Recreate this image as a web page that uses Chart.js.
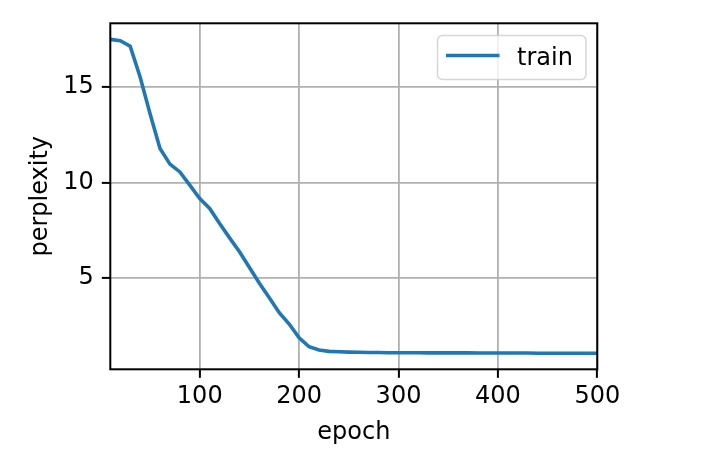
<!DOCTYPE html>
<html>
<head>
<meta charset="utf-8">
<script src="https://cdn.jsdelivr.net/npm/chart.js@4.4.1/dist/chart.umd.min.js"></script>
<style>
  html, body { margin: 0; padding: 0; background: #ffffff; }
  #wrap { width: 703px; height: 474px; }
</style>
</head>
<body>
<div id="wrap"><canvas id="c" width="703" height="474"></canvas></div>
<script>
const epochs = [10,20,30,40,50,60,70,80,90,100,110,120,130,140,150,160,170,180,190,200,
  210,220,230,240,250,260,270,280,290,300,310,320,330,340,350,360,370,380,390,400,
  410,420,430,440,450,460,470,480,490,500];
const trainPerplexity = [17.49,17.42,17.13,15.52,13.60,11.78,10.96,10.55,9.86,9.16,
  8.64,7.85,7.10,6.37,5.55,4.72,3.97,3.18,2.59,1.87,
  1.40,1.23,1.16,1.14,1.12,1.11,1.10,1.10,1.09,1.09,
  1.09,1.09,1.08,1.08,1.08,1.08,1.08,1.07,1.07,1.07,
  1.07,1.07,1.07,1.06,1.06,1.06,1.06,1.06,1.06,1.06];
const xTicks = [100,200,300,400,500];
const yTicks = [5,10,15];
const seriesLabel = 'train';
const xLabel = 'epoch';
const yLabel = 'perplexity';

const FONT = 'DejaVu Sans';
const FS = 24;
const LINE_COLOR = '#1f77b4';

const framePlugin = {
  id: 'frame',
  afterDraw(chart) {
    const {ctx, chartArea: a} = chart;
    ctx.save();
    ctx.strokeStyle = '#000000';
    ctx.lineWidth = 2;
    ctx.strokeRect(a.left, a.top, a.right - a.left, a.bottom - a.top);
    // legend
    const bx = 437.5, by = 35.5, bw = 148.5, bh = 44, r = 5;
    ctx.beginPath();
    ctx.moveTo(bx + r, by);
    ctx.lineTo(bx + bw - r, by);
    ctx.arcTo(bx + bw, by, bx + bw, by + r, r);
    ctx.lineTo(bx + bw, by + bh - r);
    ctx.arcTo(bx + bw, by + bh, bx + bw - r, by + bh, r);
    ctx.lineTo(bx + r, by + bh);
    ctx.arcTo(bx, by + bh, bx, by + bh - r, r);
    ctx.lineTo(bx, by + r);
    ctx.arcTo(bx, by, bx + r, by, r);
    ctx.closePath();
    ctx.fillStyle = 'rgba(255,255,255,0.8)';
    ctx.fill();
    ctx.strokeStyle = 'rgba(204,204,204,0.8)';
    ctx.lineWidth = 1.5;
    ctx.stroke();
    const ds = chart.data.datasets[0];
    ctx.strokeStyle = ds.borderColor;
    ctx.lineWidth = ds.borderWidth;
    ctx.beginPath();
    ctx.moveTo(446, 55.5);
    ctx.lineTo(499.5, 55.5);
    ctx.stroke();
    ctx.fillStyle = '#000000';
    ctx.font = FS + 'px "' + FONT + '"';
    ctx.textAlign = 'left';
    ctx.textBaseline = 'alphabetic';
    ctx.fillText(ds.label, 517, 65);
    ctx.restore();
  }
};

new Chart(document.getElementById('c'), {
  type: 'line',
  data: {
    datasets: [{
      label: seriesLabel,
      data: epochs.map((e, i) => ({x: e, y: trainPerplexity[i]})),
      borderColor: LINE_COLOR,
      backgroundColor: LINE_COLOR,
      borderWidth: 3.6,
      pointRadius: 0,
      tension: 0,
      fill: false
    }]
  },
  options: {
    responsive: false,
    animation: false,
    events: [],
    layout: { padding: { left: 0, right: 105.7, top: 23.3, bottom: 0 } },
    plugins: { legend: { display: false }, tooltip: { enabled: false } },
    scales: {
      x: {
        type: 'linear',
        min: 10,
        max: 500,
        afterBuildTicks: s => { s.ticks = xTicks.map(v => ({value: v})); },
        afterFit: s => { s.height = 104.7; },
        border: { display: false },
        grid: { color: '#b0b0b0', lineWidth: 1.8, drawTicks: true, tickLength: 8.5, tickColor: '#000000', tickWidth: 2 },
        ticks: { color: '#000000', font: { family: FONT, size: FS }, padding: 4.5, maxRotation: 0, autoSkip: false },
        title: { display: true, text: xLabel, color: '#000000', font: { family: FONT, size: FS }, padding: { top: 0, bottom: 26.4 } }
      },
      y: {
        type: 'linear',
        min: 0.22,
        max: 18.33,
        afterBuildTicks: s => { s.ticks = yTicks.map(v => ({value: v})); },
        afterFit: s => { s.width = 110.3; },
        border: { display: false },
        grid: { color: '#b0b0b0', lineWidth: 1.8, drawTicks: true, tickLength: 8.5, tickColor: '#000000', tickWidth: 2 },
        ticks: { color: '#000000', font: { family: FONT, size: FS }, padding: 8, autoSkip: false },
        title: { display: true, text: yLabel, color: '#000000', font: { family: FONT, size: FS }, padding: { top: 26, bottom: 0 } }
      }
    }
  },
  plugins: [framePlugin]
});
</script>
</body>
</html>
